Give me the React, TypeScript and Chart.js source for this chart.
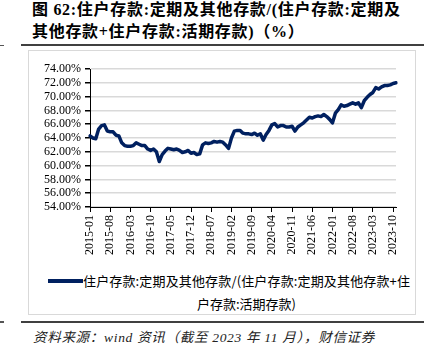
import React, { useEffect, useRef } from "react";
import { Chart, registerables } from "chart.js";

Chart.register(...registerables);

const startYear = 2015;
const monthCount = 107; // 2015-01 .. 2023-11
const categories: string[] = Array.from({ length: monthCount }, (_, i) => {
  const y = startYear + Math.floor(i / 12);
  const m = (i % 12) + 1;
  return `${y}-${m < 10 ? "0" + m : m}`;
});

const ratio2015: number[] = [64.3, 64.0, 63.9, 65.3, 65.8, 65.9, 65.0, 64.9, 64.9, 64.4, 64.3, 63.3];
const ratio2016: number[] = [62.9, 62.8, 62.8, 62.9, 63.3, 63.1, 62.9, 62.9, 62.4, 62.2, 62.4, 62.0];
const ratio2017: number[] = [60.6, 61.6, 62.1, 62.5, 62.4, 62.3, 62.4, 62.2, 61.9, 62.0, 62.2, 61.8];
const ratio2018: number[] = [61.9, 61.6, 61.7, 63.0, 63.3, 63.2, 63.3, 63.5, 63.4, 63.5, 63.4, 63.0];
const ratio2019: number[] = [62.5, 64.0, 65.0, 65.1, 65.1, 64.7, 64.6, 64.6, 64.5, 64.7, 64.4, 64.6];
const ratio2020: number[] = [63.7, 64.5, 65.1, 65.9, 66.1, 65.6, 65.8, 65.8, 65.6, 65.6, 65.7, 65.0];
const ratio2021: number[] = [65.6, 65.9, 66.2, 66.6, 67.0, 66.9, 67.1, 67.2, 67.1, 67.4, 67.1, 66.7];
const ratio2022: number[] = [66.2, 67.6, 68.1, 68.8, 68.6, 68.7, 68.9, 69.1, 68.9, 69.1, 68.4, 69.4];
const ratio2023: number[] = [69.9, 70.3, 70.6, 71.3, 71.1, 71.4, 71.6, 71.6, 71.7, 71.9, 72.0];

const seriesValues: number[] = [
  ...ratio2015, ...ratio2016, ...ratio2017, ...ratio2018, ...ratio2019,
  ...ratio2020, ...ratio2021, ...ratio2022, ...ratio2023,
];

const seriesName = "住户存款:定期及其他存款/(住户存款:定期及其他存款+住户存款:活期存款)";
const yMin = 54;
const yMax = 74;
const yStep = 2;
const xLabelEvery = 7;

const LINE_COLOR = "#002060";

export default function App() {
  const canvasRef = useRef<HTMLCanvasElement | null>(null);

  useEffect(() => {
    if (!canvasRef.current) return;
    const chart = new Chart(canvasRef.current, {
      type: "line",
      data: {
        labels: categories,
        datasets: [
          {
            label: seriesName,
            data: seriesValues,
            borderColor: LINE_COLOR,
            backgroundColor: LINE_COLOR,
            borderWidth: 3.5,
            pointRadius: 0,
            tension: 0,
            borderJoinStyle: "round",
            borderCapStyle: "round",
          },
        ],
      },
      options: {
        animation: false,
        responsive: false,
        maintainAspectRatio: false,
        layout: { padding: { top: 18, right: 20, left: 0, bottom: 0 } },
        plugins: {
          legend: { display: false },
          tooltip: { enabled: false },
          title: { display: false },
        },
        scales: {
          x: {
            type: "category",
            offset: false,
            afterFit: (scale: any) => {
              scale.height = 58;
            },
            grid: {
              display: true,
              drawOnChartArea: false,
              drawTicks: true,
              tickLength: 5,
              tickColor: (ctx: any) => (ctx.index % xLabelEvery === 0 ? "#000000" : "rgba(0,0,0,0)"),
              color: "rgba(0,0,0,0)",
            },
            border: { display: true, color: "#000000", width: 1 },
            ticks: {
              autoSkip: false,
              maxRotation: 90,
              minRotation: 90,
              padding: 3,
              color: "#000000",
              font: { family: "'Liberation Serif', 'Times New Roman', serif", size: 12 },
              callback: (_v: any, idx: number) => (idx % xLabelEvery === 0 ? categories[idx] : ""),
            },
          },
          y: {
            min: yMin,
            max: yMax,
            afterFit: (scale: any) => {
              scale.width = 62;
            },
            grid: {
              display: true,
              color: "#d9d9d9",
              lineWidth: 1.5,
              drawTicks: true,
              tickLength: 5,
              tickColor: "#000000",
            },
            border: { display: true, color: "#000000", width: 1 },
            ticks: {
              autoSkip: false,
              stepSize: yStep,
              padding: 4,
              color: "#000000",
              font: { family: "'Liberation Serif', 'Times New Roman', serif", size: 12 },
              callback: (v: any) => Number(v).toFixed(2) + "%",
            },
          },
        },
      },
    });
    return () => chart.destroy();
  }, []);

  const serifCjk = "'Liberation Serif', 'Noto Sans CJK SC', serif";
  const sansCjk = "'Noto Sans CJK SC', 'Liberation Sans', sans-serif";

  return (
    <div
      style={{
        position: "fixed",
        left: 0,
        top: 0,
        width: 433,
        height: 356,
        background: "#ffffff",
        overflow: "hidden",
      }}
    >
      <div
        style={{
          position: "absolute",
          left: 32,
          top: -1,
          fontFamily: serifCjk,
          fontWeight: 700,
          fontSize: 16,
          letterSpacing: "0.7px",
          lineHeight: "22px",
          color: "#000",
          whiteSpace: "nowrap",
        }}
      >
        <div>图 62:住户存款:定期及其他存款/(住户存款:定期及</div>
        <div>其他存款+住户存款:活期存款)（%）</div>
      </div>

      <div style={{ position: "absolute", left: 0, top: 44.5, width: 4, height: 1.5, background: "#555" }} />
      <div style={{ position: "absolute", left: 21, top: 43.5, width: 403, height: 2, background: "#404040" }} />

      <div
        style={{
          position: "absolute",
          left: 28,
          top: 50,
          width: 388,
          height: 265,
          border: "1px solid #d9d9d9",
          boxSizing: "border-box",
        }}
      />

      <canvas
        ref={canvasRef}
        width={388}
        height={214}
        style={{ position: "absolute", left: 28, top: 51, width: 388, height: 214 }}
      />

      <div style={{ position: "absolute", left: 48, top: 279, width: 35, height: 4, background: LINE_COLOR }} />
      <div
        style={{
          position: "absolute",
          left: 83,
          top: 272,
          fontFamily: sansCjk,
          fontSize: 13,
          letterSpacing: "0.15px",
          lineHeight: "17px",
          color: "#000",
          whiteSpace: "nowrap",
        }}
      >
        住户存款:定期及其他存款/(住户存款:定期及其他存款+住
      </div>
      <div
        style={{
          position: "absolute",
          left: 83,
          width: 327,
          top: 294.5,
          textAlign: "center",
          fontFamily: sansCjk,
          fontSize: 13,
          lineHeight: "17px",
          color: "#000",
          whiteSpace: "nowrap",
        }}
      >
        户存款:活期存款)
      </div>

      <div style={{ position: "absolute", left: 0, top: 321, width: 4, height: 1.5, background: "#555" }} />
      <div style={{ position: "absolute", left: 21, top: 321, width: 403, height: 2, background: "#404040" }} />

      <div
        style={{
          position: "absolute",
          left: 33,
          top: 329,
          fontFamily: serifCjk,
          fontStyle: "italic",
          fontSize: 13.5,
          letterSpacing: "0.7px",
          lineHeight: "18px",
          color: "#222",
          whiteSpace: "nowrap",
        }}
      >
        资料来源：wind 资讯（截至 2023 年 11 月），财信证券
      </div>
    </div>
  );
}
